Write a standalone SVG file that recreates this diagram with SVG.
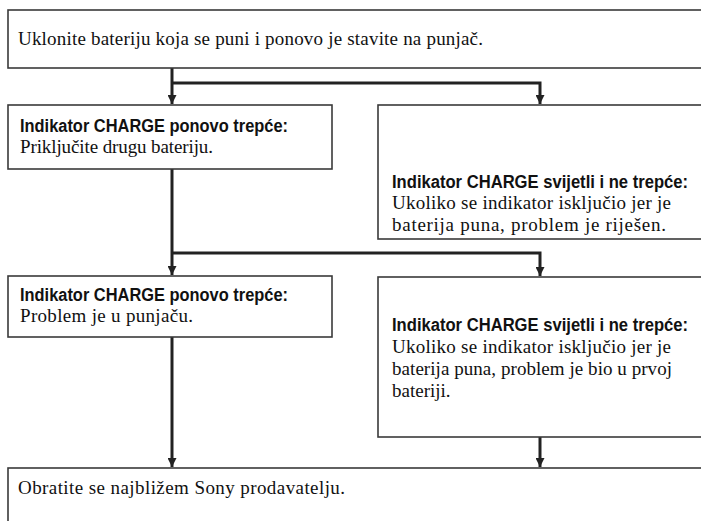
<svg xmlns="http://www.w3.org/2000/svg" width="701" height="521" viewBox="0 0 701 521">
<defs>
<style>
.box{fill:#fff;stroke:#3a3a3a;stroke-width:1.6}
.con{fill:none;stroke:#222;stroke-width:3}
.t{font-family:"Liberation Serif","Times New Roman",serif;font-size:19px;fill:#111}
.b{font-family:"Liberation Sans",Arial,sans-serif;font-weight:bold;font-size:18px;fill:#111}
</style>
<marker id="ah" viewBox="0 0 10 10" refX="10" refY="5" markerUnits="userSpaceOnUse" markerWidth="10" markerHeight="9" orient="auto">
<path d="M0,0 L10,5 L0,10 z" fill="#222"/>
</marker>
</defs>
<rect width="701" height="521" fill="#fff"/>
<g id="connectors">
<path class="con" d="M172,68 V104" marker-end="url(#ah)"/>
<path class="con" d="M172,83 H540 V104" marker-end="url(#ah)"/>
<path class="con" d="M172,169 V275" marker-end="url(#ah)"/>
<path class="con" d="M172,253 H540 V276" marker-end="url(#ah)"/>
<path class="con" d="M172,337 V467" marker-end="url(#ah)"/>
<path class="con" d="M540,437 V467" marker-end="url(#ah)"/>
</g>
<g id="start">
<rect class="box" x="8" y="10" width="710" height="58"/>
<text class="t" x="18" y="45" textLength="465" lengthAdjust="spacing">Uklonite bateriju koja se puni i ponovo je stavite na punjač.</text>
</g>
<g id="blink1">
<rect class="box" x="8" y="105" width="324" height="64"/>
<text class="b" x="20" y="132" textLength="268" lengthAdjust="spacingAndGlyphs">Indikator CHARGE ponovo trepće:</text>
<text class="t" x="20" y="153" textLength="193" lengthAdjust="spacing">Priključite drugu bateriju.</text>
</g>
<g id="steady1">
<rect class="box" x="378" y="105" width="340" height="134"/>
<text class="b" x="392" y="188" textLength="296" lengthAdjust="spacingAndGlyphs">Indikator CHARGE svijetli i ne trepće:</text>
<text class="t" x="392" y="209" textLength="279" lengthAdjust="spacing">Ukoliko se indikator isključio jer je</text>
<text class="t" x="392" y="231" textLength="274" lengthAdjust="spacing">baterija puna, problem je riješen.</text>
</g>
<g id="blink2">
<rect class="box" x="8" y="276" width="324" height="61"/>
<text class="b" x="20" y="301" textLength="268" lengthAdjust="spacingAndGlyphs">Indikator CHARGE ponovo trepće:</text>
<text class="t" x="20" y="322" textLength="173" lengthAdjust="spacing">Problem je u punjaču.</text>
</g>
<g id="steady2">
<rect class="box" x="378" y="277" width="340" height="160"/>
<text class="b" x="392" y="331" textLength="296" lengthAdjust="spacingAndGlyphs">Indikator CHARGE svijetli i ne trepće:</text>
<text class="t" x="392" y="353" textLength="279" lengthAdjust="spacing">Ukoliko se indikator isključio jer je</text>
<text class="t" x="392" y="375" textLength="280" lengthAdjust="spacing">baterija puna, problem je bio u prvoj</text>
<text class="t" x="392" y="397">bateriji.</text>
</g>
<g id="dealer">
<rect class="box" x="8" y="468" width="710" height="70"/>
<text class="t" x="18" y="494" textLength="327" lengthAdjust="spacing">Obratite se najbližem Sony prodavatelju.</text>
</g>
</svg>
